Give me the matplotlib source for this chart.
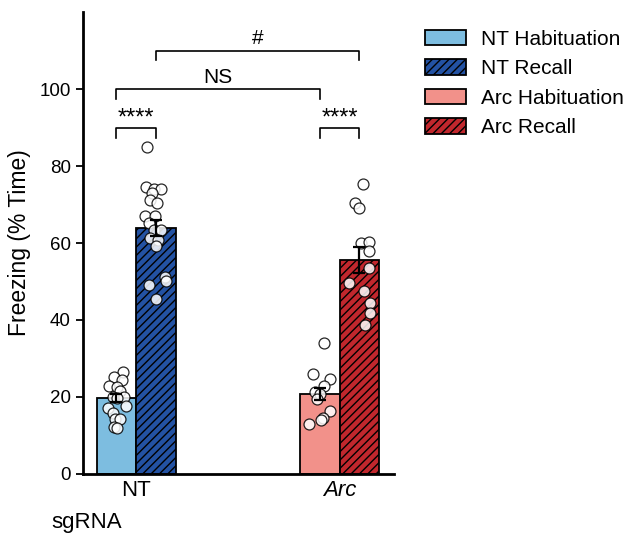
import numpy as np
import matplotlib
matplotlib.use("Agg")
import matplotlib.pyplot as plt
from matplotlib.patches import Patch

plt.rcParams["font.family"] = ["Liberation Sans", "DejaVu Sans"]
plt.rcParams["hatch.linewidth"] = 1.0

GROUPS = ["NT", "Arc"]
LABELS = ["NT Habituation", "NT Recall", "Arc Habituation", "Arc Recall"]
MEANS = [19.7, 63.9, 20.8, 55.6]
SEMS = [1.0, 2.2, 1.6, 3.3]
COLORS = ["#7dbde0", "#2352a3", "#f2918a", "#c1272d"]
HATCHES = ["", "////", "", "////"]

# individual animals, with horizontal jitter in bar widths
nt_hab = [26.6, 25.3, 24.4, 22.9, 22.7, 21.6, 20.1, 20.1, 19.7, 17.7, 17.2,
          15.9, 14.2, 14.2, 12.3, 11.9]
nt_hab_dx = [0.16, -0.05, 0.13, -0.19, 0.01, 0.09, -0.08, 0.18, 0.02, 0.24,
             -0.2, -0.09, -0.04, 0.09, -0.05, 0.02]
nt_rec = [85.0, 74.6, 73.9, 73.9, 73.1, 71.2, 70.5, 67.0, 67.0, 65.3, 63.4,
          63.4, 61.2, 60.8, 59.2, 51.2, 50.0, 49.1, 45.4]
nt_rec_dx = [-0.24, -0.26, -0.05, 0.12, -0.11, -0.15, 0.02, -0.28, -0.02,
             -0.19, -0.05, 0.13, -0.15, 0.06, 0.0, 0.22, 0.24, -0.19, -0.01]
arc_hab = [33.9, 26.0, 24.7, 22.9, 21.4, 20.8, 19.4, 16.4, 14.5, 14.0, 13.0]
arc_hab_dx = [0.1, -0.16, 0.25, 0.1, -0.11, 0.0, -0.07, 0.27, 0.07, 0.04,
              -0.26]
arc_rec = [75.3, 70.3, 69.2, 60.1, 60.3, 58.0, 53.6, 49.7, 47.6, 44.3, 41.7,
           38.6]
arc_rec_dx = [0.09, -0.12, -0.02, 0.04, 0.24, 0.24, 0.24, -0.25, 0.11, 0.28,
              0.28, 0.13]
POINTS = [nt_hab, nt_rec, arc_hab, arc_rec]
POINTS_DX = [nt_hab_dx, nt_rec_dx, arc_hab_dx, arc_rec_dx]

group_x = np.array([0.0, 1.0])
width = 0.195
bar_x = [group_x[0] - width / 2, group_x[0] + width / 2,
         group_x[1] - width / 2, group_x[1] + width / 2]

fig = plt.figure(figsize=(6.4, 5.47), dpi=100)
ax = fig.add_axes([0.129, 0.1335, 0.487, 0.8445])

for i in range(4):
    ax.bar(bar_x[i], MEANS[i], width=width, color=COLORS[i], edgecolor="black",
           linewidth=1.3, hatch=HATCHES[i], zorder=2)
    xs = bar_x[i] + np.array(POINTS_DX[i]) * width
    ax.scatter(xs, POINTS[i], s=62, facecolor="white", edgecolor="black",
               linewidth=0.9, alpha=0.85, zorder=3)
    ax.errorbar(bar_x[i], MEANS[i], yerr=SEMS[i], fmt="none", ecolor="black",
                elinewidth=1.6, capsize=4, capthick=1.6, zorder=4)


def bracket(x1, x2, y, text, dy=2.5, ty=0.6, size=14):
    ax.plot([x1, x1, x2, x2], [y - dy, y, y, y - dy], color="black", lw=1.2,
            clip_on=False, zorder=5)
    ax.text((x1 + x2) / 2, y + ty, text, ha="center", va="bottom",
            fontsize=size)


bracket(bar_x[0], bar_x[1], 89.9, "****", ty=-0.3, size=17)
bracket(bar_x[2], bar_x[3], 89.9, "****", ty=-0.3, size=17)
bracket(bar_x[0], bar_x[2], 100.0, "NS", ty=0.6, size=15)
bracket(bar_x[1], bar_x[3], 110.0, "#", ty=0.6, size=15)

ax.set_xlim(-0.264, 1.269)
ax.set_ylim(0, 120)
ax.set_yticks([0, 20, 40, 60, 80, 100])
ax.set_xticks(group_x)
ax.set_xticklabels(GROUPS, fontsize=16)
ax.get_xticklabels()[1].set_fontstyle("italic")
ax.tick_params(axis="x", length=0, pad=4)
ax.tick_params(axis="y", labelsize=13.5, width=1.3, length=5)
ax.spines["top"].set_visible(False)
ax.spines["right"].set_visible(False)
ax.spines["left"].set_linewidth(2.0)
ax.spines["bottom"].set_linewidth(2.0)
ax.set_ylabel("Freezing (% Time)", fontsize=16.5, labelpad=6)

fig.text(0.081, 0.045, "sgRNA", fontsize=16, ha="left", va="center")

handles = [Patch(facecolor=COLORS[i], edgecolor="black", linewidth=1.3,
                 hatch=HATCHES[i], label=LABELS[i]) for i in range(4)]
fig.legend(handles=handles, loc="upper left", bbox_to_anchor=(0.641, 0.972),
           frameon=False, fontsize=15, handlelength=2.0, handleheight=0.75,
           labelspacing=0.5, handletextpad=0.7, borderpad=0.2)

fig.savefig("out.png", dpi=100)
